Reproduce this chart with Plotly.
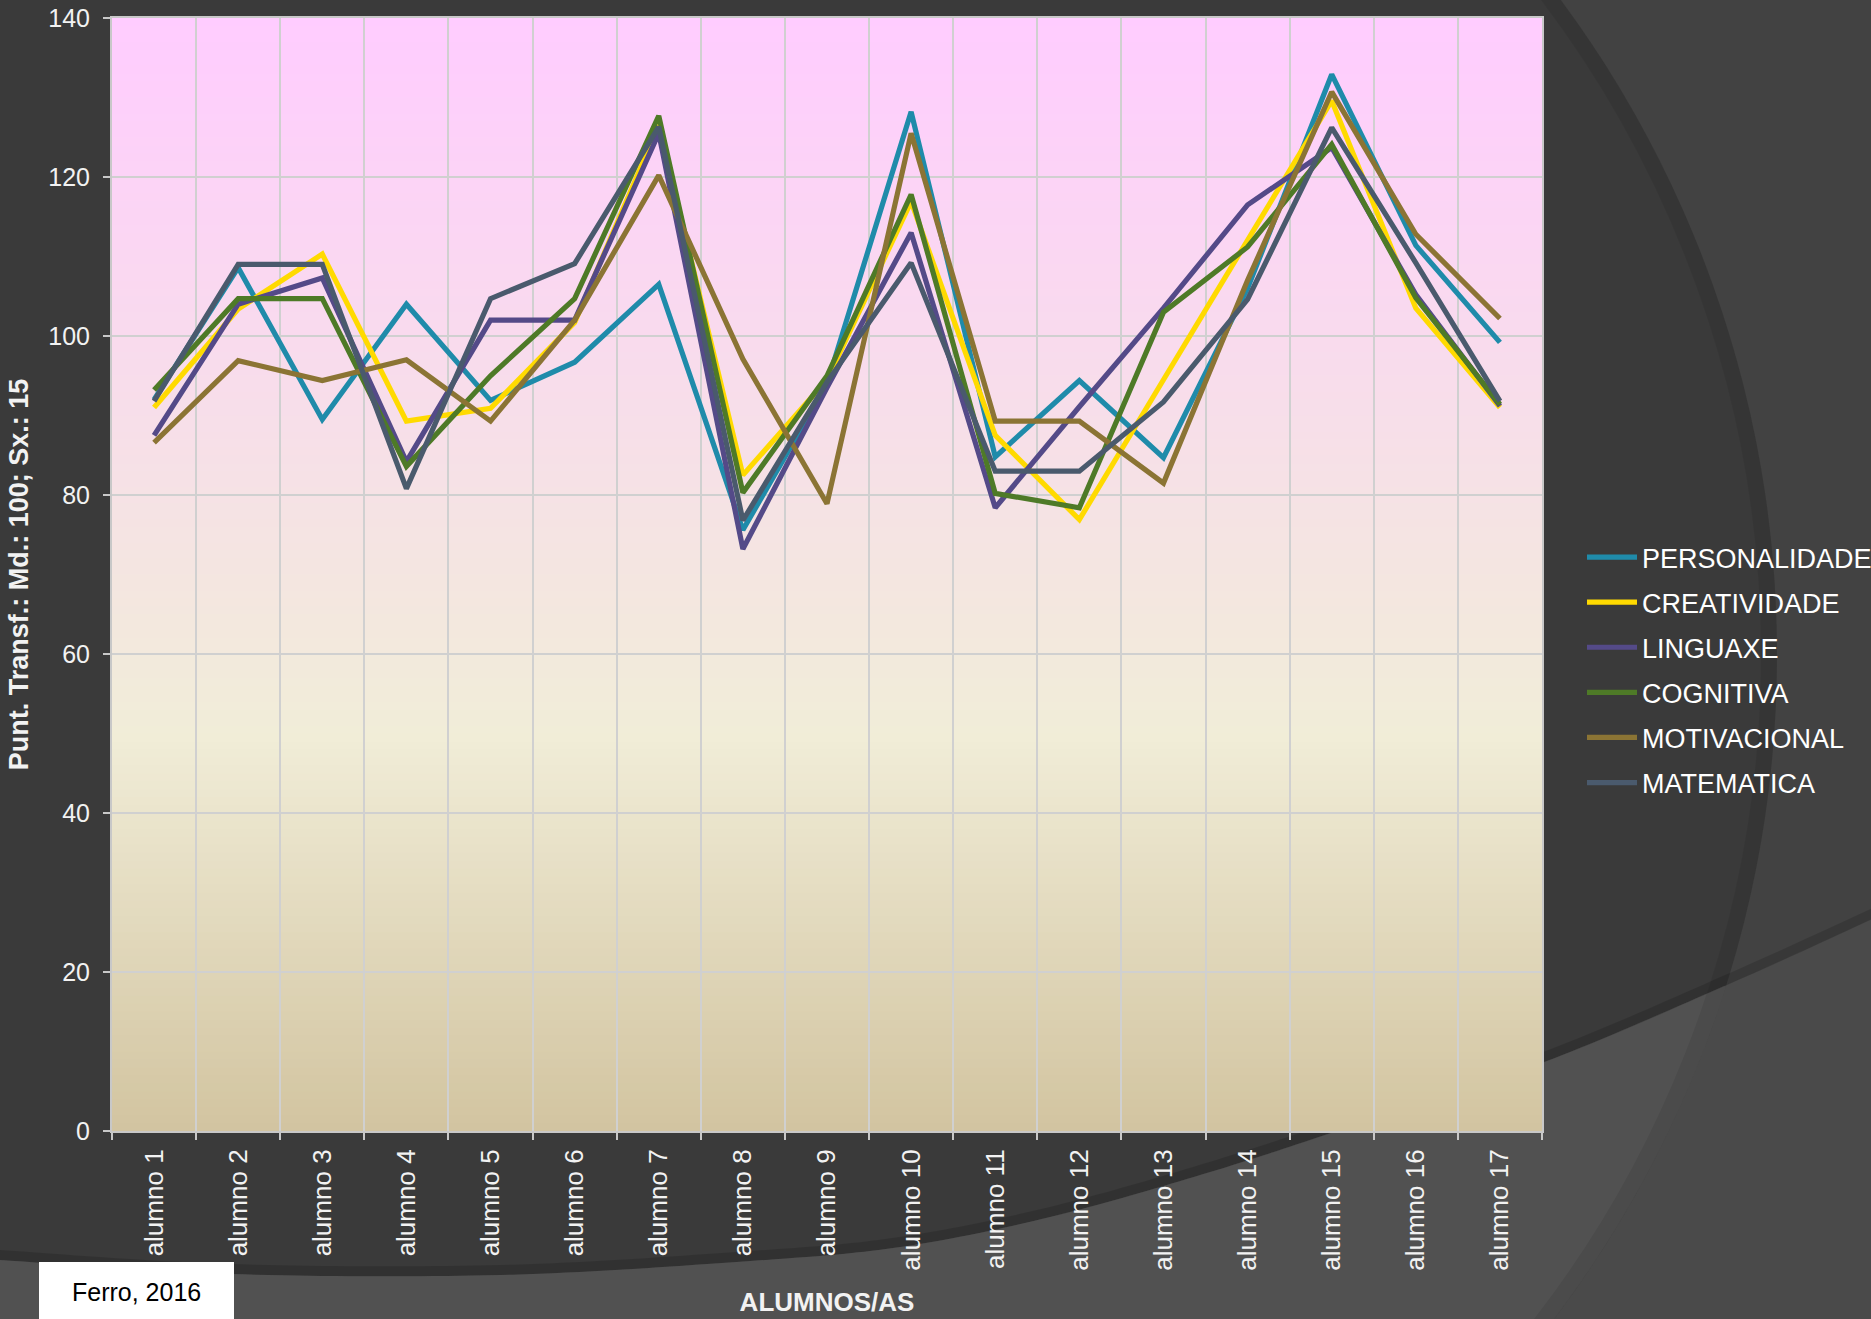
import math
import plotly.graph_objects as go

# ---------------- data ----------------
alumnos = ["alumno %d" % i for i in range(1, 18)]

personalidade = [92.0, 108.6, 89.5, 104.0, 91.9, 96.7, 106.5, 75.6, 94.0, 128.2, 84.8, 94.4, 84.7, 106.0, 132.9, 111.4, 99.2]
creatividade = [91.0, 103.4, 110.3, 89.3, 90.9, 101.7, 126.5, 82.5, 94.5, 116.9, 87.5, 76.9, 94.5, 112.0, 129.6, 103.5, 91.0]
linguaxe = [87.5, 104.0, 107.3, 84.2, 102.0, 102.0, 125.5, 73.2, 93.5, 113.0, 78.4, 91.1, 103.5, 116.5, 123.7, 105.2, 91.2]
cognitiva = [93.2, 104.7, 104.7, 83.6, 95.0, 104.7, 127.7, 80.3, 95.0, 117.8, 80.2, 78.4, 103.0, 111.2, 124.1, 104.8, 91.4]
motivacional = [86.6, 96.9, 94.4, 97.0, 89.3, 102.0, 120.2, 97.1, 78.9, 125.5, 89.3, 89.3, 81.5, 107.0, 130.7, 112.8, 102.2]
matematica = [91.8, 109.0, 109.0, 80.8, 104.7, 109.1, 126.3, 76.8, 94.2, 109.2, 83.0, 83.0, 91.7, 104.6, 126.2, 109.2, 91.8]

series_names = ["PERSONALIDADE", "CREATIVIDADE", "LINGUAXE", "COGNITIVA", "MOTIVACIONAL", "MATEMATICA"]
series_values = [personalidade, creatividade, linguaxe, cognitiva, motivacional, matematica]
series_colors = ["#1F8BAA", "#FFDA00", "#544A88", "#4E7A27", "#8B7434", "#4A5A6D"]

y_ticks = [0, 20, 40, 60, 80, 100, 120, 140]

# ---------------- geometry ----------------
W, H = 1871, 1319
ML, MR, MT, MB = 112, 329, 18, 188
PW = W - ML - MR
PH = H - MT - MB
FONT = "Liberation Sans, Arial, sans-serif"


def px(X):
    return (X - ML) / PW


def py(Y):
    return (H - MB - Y) / PH


def path_from(points, close=True):
    s = "M " + " L ".join("%.5f,%.5f" % (px(x), py(y)) for x, y in points)
    return s + (" Z" if close else "")


def catmull(pts, n=20):
    out = []
    P = [pts[0]] + pts + [pts[-1]]
    for i in range(1, len(P) - 2):
        p0, p1, p2, p3 = P[i - 1], P[i], P[i + 1], P[i + 2]
        for k in range(n):
            t = k / n
            t2, t3 = t * t, t * t * t
            out.append(tuple(0.5 * (2 * p1[j] + (-p0[j] + p2[j]) * t
                                    + (2 * p0[j] - 5 * p1[j] + 4 * p2[j] - p3[j]) * t2
                                    + (-p0[j] + 3 * p1[j] - 3 * p2[j] + p3[j]) * t3) for j in range(2)))
    out.append(pts[-1])
    return out


fig = go.Figure()

for name, vals, col in zip(series_names, series_values, series_colors):
    fig.add_trace(go.Scatter(
        x=alumnos, y=vals, name=name, mode="lines",
        line=dict(color=col, width=5.2), legendgroup=name,
    ))

shapes = []
# slide background: big circle (darker inside)
cx, cy, r = 677, 655, 1100
shapes.append(dict(type="circle", xref="paper", yref="paper", layer="below",
                   x0=px(cx - r), x1=px(cx + r), y0=py(cy + r), y1=py(cy - r),
                   fillcolor="#3A3A3A", line=dict(width=0)))
# lower band boundary
guide = [(-30, 1258), (0, 1260), (230, 1274), (500, 1275), (750, 1261), (900, 1247),
         (1050, 1217), (1210, 1172), (1358, 1124), (1544, 1062), (1733, 982), (1900, 906)]
bpts = catmull(guide)
band = bpts + [(1900, 1400), (-30, 1400)]
shapes.append(dict(type="path", xref="paper", yref="paper", layer="below",
                   path=path_from(band), fillcolor="#4A4A4A", line=dict(width=0)))
# lower band inside the circle
inside = [p for p in bpts if (p[0] - cx) ** 2 + (p[1] - cy) ** 2 <= r * r]
xe, ye = inside[-1]
th0 = math.atan2(ye - cy, xe - cx)
th1 = math.asin((1400 - cy) / r)
arc = [(cx + r * math.cos(th0 + (th1 - th0) * k / 60), cy + r * math.sin(th0 + (th1 - th0) * k / 60)) for k in range(61)]
inter = inside + arc + [(-30, 1400)]
shapes.append(dict(type="path", xref="paper", yref="paper", layer="below",
                   path=path_from(inter), fillcolor="#515151", line=dict(width=0)))
# soft shadows
shapes.append(dict(type="circle", xref="paper", yref="paper", layer="below",
                   x0=px(cx - r + 8), x1=px(cx + r - 8), y0=py(cy + r - 8), y1=py(cy - r + 8),
                   fillcolor="rgba(0,0,0,0)", line=dict(width=16, color="rgba(0,0,0,0.07)")))
shapes.append(dict(type="path", xref="paper", yref="paper", layer="below",
                   path=path_from([(x, y - 5) for x, y in bpts], close=False),
                   line=dict(width=10, color="rgba(0,0,0,0.14)")))

# plot area vertical gradient (pink -> cream -> tan)
stops = [(0, (0xD2, 0xC4, 0xA0)), (50, (0xF1, 0xED, 0xD8)), (140, (0xFF, 0xCC, 0xFF))]


def grad(v):
    for (v0, c0), (v1, c1) in zip(stops[:-1], stops[1:]):
        if v0 <= v <= v1:
            f = (v - v0) / (v1 - v0)
            return "rgb(%d,%d,%d)" % tuple(round(a + (b - a) * f) for a, b in zip(c0, c1))
    return "rgb(255,204,255)"


for v in range(0, 140):
    shapes.append(dict(type="rect", xref="paper", yref="y", layer="below",
                       x0=0, x1=1, y0=v, y1=140, fillcolor=grad(v + 0.5),
                       line=dict(width=0)))

# source box
shapes.append(dict(type="rect", xref="paper", yref="paper", layer="above",
                   x0=px(39), x1=px(234), y0=py(1330), y1=py(1262),
                   fillcolor="white", line=dict(width=0)))

fig.update_layout(
    width=W, height=H,
    margin=dict(l=ML, r=MR, t=MT, b=MB, autoexpand=False),
    paper_bgcolor="#424242",
    plot_bgcolor="#F1EDD8",
    shapes=shapes,
    font=dict(family=FONT, size=25, color="#F2F2F2"),
    showlegend=True,
    legend=dict(x=px(1582), xanchor="left", y=py(533), yanchor="top",
                bgcolor="rgba(0,0,0,0)", font=dict(size=27, color="white"),
                tracegroupgap=7, itemwidth=50),
    annotations=[dict(text="Ferro, 2016", xref="paper", yref="paper",
                      x=px(136), y=py(1292), xanchor="center", yanchor="middle",
                      showarrow=False, font=dict(size=25, color="black", family=FONT))],
)

fig.update_xaxes(
    type="category", range=[-0.5, 16.5], tickson="boundaries", ticks="outside", ticklen=7,
    tickcolor="#C8C8C8", tickwidth=2, tickangle=-90, ticklabelstandoff=6,
    tickfont=dict(size=26, color="#F2F2F2"),
    showgrid=True, gridcolor="#D0D0D0", gridwidth=2,
    showline=True, linecolor="#C8C8C8", linewidth=2, mirror=True,
    title=dict(text="<b>ALUMNOS/AS</b>", font=dict(size=26, color="#F2F2F2"), standoff=23),
    automargin=False,
)
fig.update_yaxes(
    range=[0, 140], tickvals=y_ticks, ticks="outside", ticklen=7,
    tickcolor="#C8C8C8", tickwidth=2, ticklabelstandoff=8,
    tickfont=dict(size=25, color="#F2F2F2"),
    showgrid=True, gridcolor="#D0D0D0", gridwidth=2, zeroline=False,
    showline=True, linecolor="#C8C8C8", linewidth=2, mirror=True,
    title=dict(text="<b>Punt. Transf.: Md.: 100; Sx.: 15</b>", font=dict(size=27, color="#F2F2F2"), standoff=12),
    automargin=False,
)

fig.write_html("out.html", config={"displayModeBar": False},
               post_script="document.body.style.margin='0';document.body.style.overflow='hidden';")
